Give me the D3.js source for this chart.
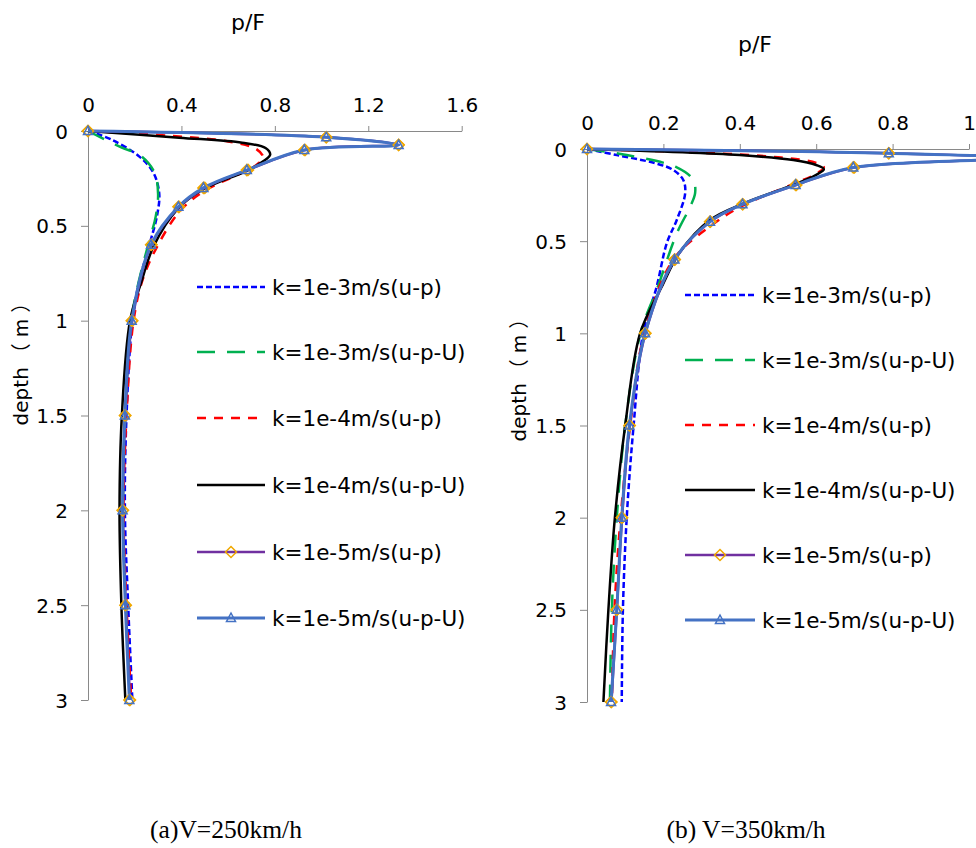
<!DOCTYPE html>
<html>
<head>
  <meta charset="UTF-8">
  <title>p/F vs depth</title>
  <script src="https://d3js.org/d3.v7.min.js"></script>
  <style>
    body { margin: 0; background: #fff; }
    svg { font-family: "DejaVu Sans", "Noto Sans CJK SC", sans-serif; }
    .axis path, .axis line { stroke: #898989; }
    .axis text { font-size: 20px; fill: #000; font-family: "DejaVu Sans", sans-serif; }
    .caption { font-family: "Liberation Serif", serif; font-size: 25.5px; }
    .cjk { font-family: "Noto Sans CJK SC", sans-serif; letter-spacing: 6px; }
  </style>
</head>
<body>
  <svg width="976" height="848"></svg>
  <script>
    // series labels (same in both panels)
    const labels = ['k=1e-3m/s(u-p)', 'k=1e-3m/s(u-p-U)', 'k=1e-4m/s(u-p)',
                    'k=1e-4m/s(u-p-U)', 'k=1e-5m/s(u-p)', 'k=1e-5m/s(u-p-U)'];

    const xTicksA = [0, 0.4, 0.8, 1.2, 1.6];
    const xTicksB = [0, 0.2, 0.4, 0.6, 0.8, 1];
    const depthTicks = [0, 0.5, 1, 1.5, 2, 2.5, 3];

    // (a) V=250km/h  -- [p/F, depth]
    const a_k3_up = [[0,0],[0.1,0.045],[0.22,0.135],[0.28,0.22],[0.305,0.33],[0.295,0.45],[0.265,0.59],[0.22,0.79],[0.19,1.0],[0.165,1.5],[0.158,2.0],[0.172,2.5],[0.19,3.0]];
    const a_k3_upU = [[0,0],[0.14,0.085],[0.225,0.13],[0.285,0.22],[0.3,0.33],[0.29,0.45],[0.26,0.59],[0.218,0.79],[0.185,1.0],[0.16,1.5],[0.15,2.0],[0.162,2.5],[0.18,3.0]];
    const a_k4_up = [[0,0],[0.35,0.025],[0.6,0.055],[0.72,0.095],[0.75,0.14],[0.72,0.18],[0.66,0.22],[0.5,0.315],[0.395,0.42],[0.3,0.6],[0.235,0.78],[0.195,1.0],[0.165,1.5],[0.152,2.0],[0.165,2.5],[0.185,3.0]];
    const a_k4_upU = [[0,0],[0.39,0.035],[0.66,0.062],[0.76,0.09],[0.78,0.125],[0.75,0.16],[0.68,0.21],[0.49,0.31],[0.385,0.41],[0.28,0.61],[0.23,0.79],[0.18,1.0],[0.145,1.5],[0.135,2.0],[0.143,2.5],[0.16,3.0]];
    const a_k5_up = [[0,0],[1.02,0.033],[1.33,0.073],[0.93,0.1],[0.685,0.205],[0.5,0.3],[0.39,0.4],[0.272,0.6],[0.19,1.0],[0.16,1.5],[0.15,2.0],[0.162,2.5],[0.18,3.0]];
    const a_k5_upU = [[0,0],[1.02,0.033],[1.33,0.074],[0.926,0.1],[0.68,0.206],[0.494,0.3],[0.387,0.4],[0.27,0.6],[0.187,1.0],[0.158,1.5],[0.148,2.0],[0.16,2.5],[0.177,3.0]];

    // (b) V=350km/h  -- [p/F, depth]
    const b_k3_up = [[0,0],[0.078,0.033],[0.18,0.078],[0.226,0.114],[0.252,0.168],[0.257,0.24],[0.235,0.385],[0.209,0.51],[0.182,0.75],[0.147,1.0],[0.122,1.5],[0.104,2.0],[0.094,2.5],[0.091,3.0]];
    const b_k3_upU = [[0,0],[0.104,0.033],[0.235,0.1],[0.278,0.168],[0.283,0.24],[0.27,0.313],[0.235,0.458],[0.185,0.75],[0.14,1.0],[0.1,1.5],[0.078,2.0],[0.065,2.5],[0.06,3.0]];
    const b_k4_up = [[0,0],[0.3,0.02],[0.5,0.045],[0.6,0.075],[0.62,0.1],[0.6,0.135],[0.54,0.19],[0.405,0.31],[0.322,0.42],[0.226,0.6],[0.15,1.0],[0.113,1.5],[0.088,2.0],[0.072,2.5],[0.065,3.0]];
    const b_k4_upU = [[0,0],[0.4,0.033],[0.54,0.06],[0.6,0.087],[0.62,0.11],[0.6,0.14],[0.54,0.195],[0.41,0.295],[0.322,0.385],[0.243,0.56],[0.195,0.75],[0.139,1.0],[0.1,1.5],[0.073,2.0],[0.056,2.5],[0.043,3.0]];
    const b_k5_up = [[0,0],[0.79,0.023],[1.12,0.05],[0.7,0.1],[0.548,0.195],[0.408,0.3],[0.323,0.394],[0.23,0.6],[0.153,1.0],[0.112,1.5],[0.092,2.0],[0.078,2.5],[0.064,3.0]];
    const b_k5_upU = [[0,0],[0.79,0.023],[1.12,0.05],[0.697,0.1],[0.546,0.195],[0.407,0.3],[0.322,0.394],[0.229,0.6],[0.152,1.0],[0.111,1.5],[0.091,2.0],[0.078,2.5],[0.063,3.0]];

    const styles = [
      { color: '#0000ff', dash: '6,3', w: 2.5 },
      { color: '#00b050', dash: '18,12', w: 2.5 },
      { color: '#ff0000', dash: '9,8', w: 2.5 },
      { color: '#000000', dash: null, w: 2.5 },
      { color: '#7030a0', dash: null, w: 2.5, marker: 'diamond' },
      { color: '#4472c4', dash: null, w: 3, marker: 'triangle' }
    ];

    const panels = [
      { series: [a_k3_up, a_k3_upU, a_k4_up, a_k4_upU, a_k5_up, a_k5_upU],
        xMax: 1.6, xTicks: xTicksA, xr: [88, 461.7], yr: [131, 700],
        title: [248, 22], ylab: [21, 356], caption: ['(a)V=250km/h', 226, 838],
        legend: { x1: 197, x2: 265, ys: [287, 352, 418, 485, 552, 618] } },
      { series: [b_k3_up, b_k3_upU, b_k4_up, b_k4_upU, b_k5_up, b_k5_upU],
        xMax: 1, xTicks: xTicksB, xr: [587, 969], yr: [149, 702],
        title: [755, 44], ylab: [519, 372], caption: ['(b) V=350km/h', 746, 838],
        legend: { x1: 685, x2: 755, ys: [295, 360, 425, 490, 555, 620] } }
    ];

    const svg = d3.select('svg');

    function marker(g, kind, cx, cy) {
      if (kind === 'diamond') {
        g.append('path')
          .attr('d', `M${cx},${cy-5.5}L${cx+5.5},${cy}L${cx},${cy+5.5}L${cx-5.5},${cy}Z`)
          .attr('fill', 'none').attr('stroke', '#f0a800').attr('stroke-width', 1.5);
      } else if (kind === 'triangle') {
        g.append('path')
          .attr('d', `M${cx},${cy-5}L${cx+4.5},${cy+3.5}L${cx-4.5},${cy+3.5}Z`)
          .attr('fill', 'none').attr('stroke', '#4472c4').attr('stroke-width', 1.5);
      }
    }

    panels.forEach(p => {
      const x = d3.scaleLinear().domain([0, p.xMax]).range(p.xr);
      const y = d3.scaleLinear().domain([0, 3]).range(p.yr);

      svg.append('g').attr('class', 'axis')
        .attr('transform', `translate(0,${p.yr[0]})`)
        .call(d3.axisTop(x).tickValues(p.xTicks).tickSize(5).tickPadding(14).tickSizeOuter(0)
          .tickFormat(d3.format('~g')));
      svg.append('g').attr('class', 'axis')
        .attr('transform', `translate(${p.xr[0]},0)`)
        .call(d3.axisLeft(y).tickValues(depthTicks).tickSize(7).tickPadding(13).tickSizeOuter(0)
          .tickFormat(d3.format('~g')))
        .selectAll('text').attr('dy', '0.35em');

      const line = d3.line().x(d => x(d[0])).y(d => y(d[1]))
        .curve(d3.curveCatmullRom.alpha(0.5));

      p.series.forEach((s, i) => {
        const st = styles[i];
        const g = svg.append('g');
        g.append('path').datum(s)
          .attr('d', line).attr('fill', 'none')
          .attr('stroke', st.color).attr('stroke-width', st.w)
          .attr('stroke-dasharray', st.dash);
        if (st.marker) {
          s.forEach(d => {
            marker(g, 'diamond', x(d[0]), y(d[1]));
            if (st.marker === 'triangle') marker(g, 'triangle', x(d[0]), y(d[1]));
          });
        }
      });

      // legend
      labels.forEach((lab, i) => {
        const st = styles[i];
        const ly = p.legend.ys[i];
        const g = svg.append('g');
        g.append('line')
          .attr('x1', p.legend.x1).attr('x2', p.legend.x2)
          .attr('y1', ly).attr('y2', ly)
          .attr('stroke', st.color).attr('stroke-width', st.w)
          .attr('stroke-dasharray', st.dash);
        if (st.marker) marker(g, st.marker, (p.legend.x1 + p.legend.x2) / 2, ly);
        g.append('text')
          .attr('x', p.legend.x2 + 7).attr('y', ly).attr('dy', '0.35em')
          .attr('font-size', 21.5).text(lab);
      });

      svg.append('text')
        .attr('x', p.title[0]).attr('y', p.title[1]).attr('dy', '0.35em')
        .attr('text-anchor', 'middle').attr('font-size', 22).text('p/F');

      const yl = svg.append('text')
        .attr('transform', `translate(${p.ylab[0]},${p.ylab[1]}) rotate(-90)`)
        .attr('dy', '0.35em').attr('text-anchor', 'middle').attr('font-size', 20);
      yl.append('tspan').text('depth');
      yl.append('tspan').attr('class', 'cjk').attr('dx', 4).text('（m）');

      svg.append('text').attr('class', 'caption')
        .attr('x', p.caption[1]).attr('y', p.caption[2])
        .attr('text-anchor', 'middle').text(p.caption[0]);
    });
  </script>
</body>
</html>
